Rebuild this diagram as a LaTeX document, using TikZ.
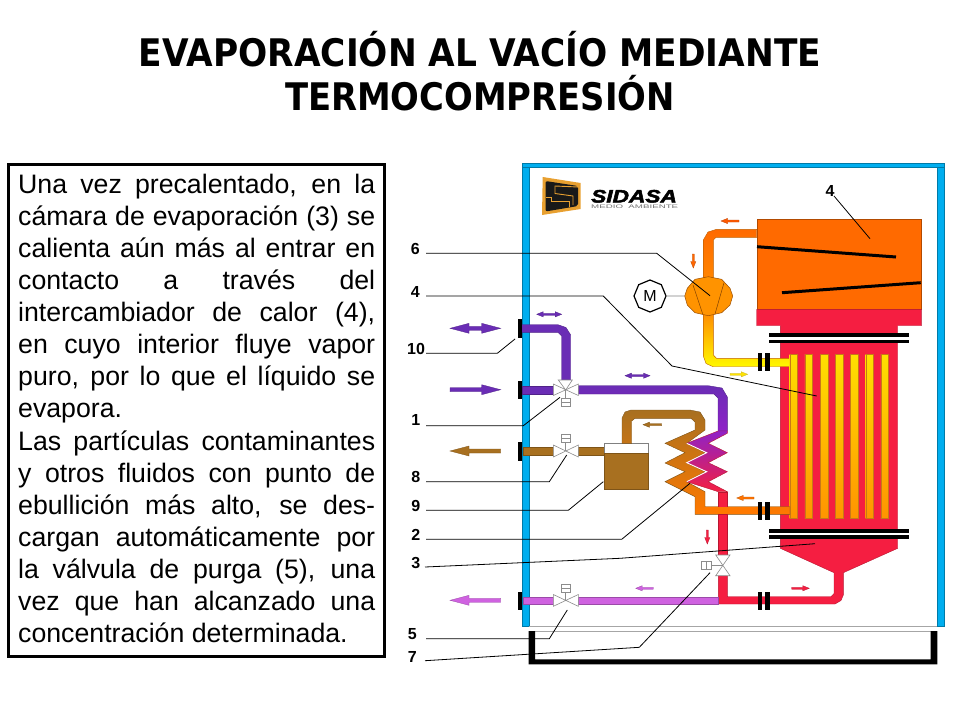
\documentclass[tikz,border=0pt]{standalone}
\usepackage{fontspec}
\setmainfont{Liberation Sans}
\newfontfamily\titlefont{DejaVu Sans}
\newfontfamily\logofont[FakeBold=2.5]{Liberation Sans}
\usetikzlibrary{shapes.geometric}
\definecolor{framebl}{HTML}{00AEEF}
\definecolor{redb}{HTML}{F51E41}
\definecolor{orangeb}{HTML}{FF6A00}
\definecolor{purp}{HTML}{6A2DB5}
\definecolor{brownb}{HTML}{A87020}
\definecolor{pinkb}{HTML}{CF62E0}
\definecolor{logoor}{HTML}{E8A030}
\definecolor{tubetop}{HTML}{FFE000}
\definecolor{tubebot}{HTML}{FF9400}
\definecolor{tubeedge}{HTML}{C87818}
\tikzset{
 frameside/.style={fill=framebl,draw=framebl!70!black,line width=.4},
 pipeedge/.style={draw=#1!75!black,line width=.4},
 bolt/.style={fill=black,draw=none},
 leader/.style={draw=black,line width=.8},
 numlabel/.style={font=\fontsize{16}{16}\bfseries\selectfont,inner sep=0},
 titleline/.style={font=\titlefont\fontsize{38}{38}\bfseries\selectfont,inner sep=0,anchor=base},
 valvebody/.style={fill=white,draw=black!45,line width=.6},
 tube/.style={top color=tubetop,bottom color=tubebot,draw=tubeedge,line width=.25},
}
\newcommand{\flowarrow}[5]{% x y rot len colour
 \path[fill=#5,draw=#5!75!black,line width=.3,shift={(#1,#2)},rotate=#3]
  (0,-\asw) -- ({#4-\ahl},-\asw) -- ({#4-\ahl},-\ahw) -- (#4,0) -- ({#4-\ahl},\ahw) -- ({#4-\ahl},\asw) -- (0,\asw) -- cycle;}
\newcommand{\dblarrow}[4]{% x y len colour
 \path[fill=#4,draw=#4!75!black,line width=.3,shift={(#1,#2)}]
  (0,0) -- (\ahl,-\ahw) -- (\ahl,-\asw) -- ({#3-\ahl},-\asw) -- ({#3-\ahl},-\ahw) -- (#3,0) -- ({#3-\ahl},\ahw) -- ({#3-\ahl},\asw) -- (\ahl,\asw) -- (\ahl,\ahw) -- cycle;}
\newcommand{\bigsize}{\def\asw{2}\def\ahw{5}\def\ahl{19}}
\newcommand{\smallsize}{\def\asw{1}\def\ahw{2.6}\def\ahl{6.5}}
\newcommand{\jl}[1]{\hbox to 357pt{\spaceskip=.278em plus 1fil minus .1em\relax #1}}
\begin{document}
\begin{tikzpicture}[x=1pt,y=-1pt]
\useasboundingbox (0,0) rectangle (960,720);
\fill[white] (0,0) rectangle (960,720);
% title
\node (title1) [titleline] at (480,66) {\resizebox{682pt}{\height}{EVAPORACIÓN AL VACÍO MEDIANTE}};
\node (title2) [titleline] at (480,110) {\resizebox{390pt}{\height}{TERMOCOMPRESIÓN}};
% text panel
\draw[line width=3] (8.5,164.5) rectangle (384.5,656.5);
\node (panel) [font=\fontsize{26.7}{32}\selectfont,inner sep=0,anchor=base west] at (18,193.5) {\vtop{\baselineskip=32.07pt\lineskiplimit=-100pt
\jl{Una vez precalentado, en la}
\jl{cámara de evaporación (3) se}
\jl{calienta aún más al entrar en}
\jl{contacto a través del}
\jl{intercambiador de calor (4),}
\jl{en cuyo interior fluye vapor}
\jl{puro, por lo que el líquido se}
\hbox{evapora.}
\jl{Las partículas contaminantes}
\jl{y otros fluidos con punto de}
\jl{ebullición más alto, se des-}
\jl{cargan automáticamente por}
\jl{la válvula de purga (5), una}
\jl{vez que han alcanzado una}
\hbox{concentración determinada.}}};
% frame
\path[frameside] (522.3,162.7) rectangle (528.7,626);
\path[frameside] (936.7,162.7) rectangle (944,626);
\path[frameside] (522.3,162.7) rectangle (944,167);
\draw[black!35,line width=.7] (528.7,626.5) -- (936.7,626.5);
\draw[black!35,line width=.7] (535,631.3) -- (931,631.3);
\fill[black] (528.7,631) -- (535,631) -- (535,659.3) -- (930.7,659.3) -- (930.7,631) -- (937.3,631) -- (937.3,664.3) -- (528.7,664.3) -- cycle;
% logo
\fill[logoor] (542.7,177) -- (580.7,183) -- (580.7,209) -- (542,215) -- cycle;
\fill[black!90,rounded corners=2pt] (545.5,181) -- (578,186) -- (578,206) -- (545.5,211.5) -- cycle;
\draw[logoor,line width=.9] (578,187) -- (555,186) -- (555,193.5) -- (573,196) -- (573,205);
\draw[logoor,line width=.9] (545.5,197) -- (551,197) -- (551,201.5) -- (569.7,201.5) -- (569.7,206.5);
\node (sidasa) [inner sep=0,anchor=base west,font=\logofont\fontsize{18}{18}\bfseries\itshape\selectfont] at (591,202.5) {\scalebox{1.26}[1]{SIDASA}};
\node (medio) [inner sep=0,anchor=north west,text=black!55] at (591,204.6) {\resizebox{87pt}{3.6pt}{MEDIO\ \ AMBIENTE}};
% top tank
\path[fill=orangeb,draw=orangeb!70!black,line width=.4] (756.7,219) rectangle (921.3,309.3);
% red body with outlet pipe
\path[fill=redb,draw=redb!75!black,line width=.4] (756.7,309.3) -- (921.3,309.3) -- (921.3,325.7) -- (897.7,325.7) -- (897.7,548.3) -- (843.3,572.7) -- (843.3,595) -- (841,600.5) -- (835,604) -- (718.3,604) -- (718.3,575.7) -- (727.3,575.7) -- (727.3,596.7) -- (831,596.7) -- (834,593.5) -- (834,572.7) -- (780.3,548.3) -- (780.3,325.7) -- (756.7,325.7) -- cycle;
% flanges
\fill[white] (780,337) rectangle (898,340);
\fill[white] (780,532.7) rectangle (898,535.3);
\fill[bolt] (769,333.3) rectangle (909,337);
\fill[bolt] (769,340) rectangle (909,343.3);
\fill[bolt] (769,529.3) rectangle (909,532.7);
\fill[bolt] (769,535.3) rectangle (909,538.7);
% compressor pipes
\path[top color=orangeb,bottom color=orange!95!yellow,pipeedge=orange] (756.7,229.3) -- (716.5,229.3) -- (708,232) -- (703.3,240) -- (703.3,280) -- (713.3,280) -- (713.3,240) -- (716,237.3) -- (756.7,237.3) -- cycle;
\path[top color=orange!95!yellow,bottom color=yellow!95!orange,pipeedge=orange] (703.3,310) -- (713.3,310) -- (713.3,355) -- (716.5,358.3) -- (790,358.3) -- (790,366.7) -- (713,366.7) -- (706,363.5) -- (703.3,356) -- cycle;
% tubes
\foreach \tx in {0,1,...,6}{
 \path[tube] ({789.7+15.2*\tx},354.3) rectangle ({797.3+15.2*\tx},518.3);
}
% compressor
\coordinate (compwest) at (684.7,296);
\path[fill=orange!85!yellow,draw=orange!60!black,line width=.5] (708.3,276.7) -- (721.7,279.3) -- (730,288.3) -- (732.7,296) -- (730,305) -- (721.7,312.7) -- (708.3,315.7) -- (695,312.7) -- (687.3,305) -- (684.7,296) -- (687.3,288.3) -- (695,279.3) -- cycle;
\draw[orange!50!black,line width=.5] (693,285) -- (702.7,314);
\draw[orange!50!black,line width=.5] (724,282.7) -- (715,314);
\node (motor) [regular polygon,regular polygon sides=8,shape border rotate=22.5,draw=black,line width=1.2,fill=white,minimum size=32pt,inner sep=0,font=\fontsize{16}{16}\selectfont] at (650,296) {M};
\draw[black!50,line width=.6] (motor) -- (compwest);
% tank coils
\draw[black,line width=3] (757,246.7) -- (896,257);
\draw[black,line width=3] (782,292.7) -- (920.7,282.7);
% purple pipes
\path[fill=purp,draw=purp!75!black,line width=.4] (522,324.7) -- (558,324.7) -- (566,327.5) -- (570.7,335) -- (570.7,380) -- (561.7,380) -- (561.7,336) -- (558,332.3) -- (522,332.3) -- cycle;
\path[fill=purp,draw=purp!75!black,line width=.4] (522,386) rectangle (553.3,394);
\path[top color=purp,bottom color=purp!75!magenta,pipeedge=purp] (578.3,385.7) -- (708,385.7) -- (722,388) -- (727.3,397) -- (727.3,431) -- (718,431) -- (718,398) -- (714,394) -- (578.3,394) -- cycle;
% brown pipes and separator
\path[fill=brownb,draw=brownb!75!black,line width=.4] (522.7,447) rectangle (553.3,454.7);
\path[fill=brownb,draw=brownb!75!black,line width=.4] (578.3,447) rectangle (604.3,454.7);
\path[fill=white,draw=black!50,line width=.6] (604.3,443.3) rectangle (648.7,453.3);
\path[fill=brownb,draw=brownb!75!black,line width=.6] (604.3,453.3) rectangle (648.7,489.3);
% orange coil
\path[top color=brownb,bottom color=orange!95!red,pipeedge=brownb] (622,443.3) -- (622,418) -- (625,412) -- (631,410) -- (690,410) -- (700,412) -- (705,420) -- (705,430) -- (686.7,443.3) -- (705,452.7) -- (686.7,463) -- (705,471.7) -- (686.7,481.7) -- (705,491.7) -- (705,506.7) -- (790,506.7) -- (790,514.3) -- (695,514.3) -- (695,496.7) -- (665,481.7) -- (685,471.7) -- (665,463) -- (685,452.7) -- (665,443.3) -- (695,430) -- (695,422) -- (691,418.3) -- (635,418.3) -- (631.7,421) -- (631.7,443.3) -- cycle;
% red coil
\path[top color=purp!75!magenta,bottom color=redb,pipeedge=redb] (727.3,431) -- (727.3,433.3) -- (708.3,443.3) -- (727.3,452.7) -- (708.3,462.7) -- (727.3,471.7) -- (708.3,481.7) -- (727.3,491.7) -- (718.3,491.7) -- (686.7,481.7) -- (706.7,471.7) -- (686.7,462.7) -- (706.7,452.7) -- (686.7,443.3) -- (718,431) -- cycle;
\draw[white,line width=.9] (686.7,443.3) -- (706.7,452.7) -- (686.7,462.7) -- (706.7,471.7) -- (686.7,481.7);
\path[fill=redb,draw=redb!75!black,line width=.4] (718.3,491.7) -- (727.3,491.7) -- (727.3,506.7) -- (718.3,506.7) -- cycle;
\path[fill=orange!95!red,draw=none] (705,506.7) rectangle (760,514.3);
\path[fill=redb,draw=redb!75!black,line width=.4] (718.3,514.3) rectangle (727.3,556);
% pink pipe
\path[fill=pinkb,draw=pinkb!75!black,line width=.4] (522.7,596.7) rectangle (553.3,604);
\path[fill=pinkb,draw=pinkb!75!black,line width=.4] (578.3,596.7) rectangle (718.3,604);
% bolts
\foreach \by in {352.7,501.7,591.7}{
 \fill[bolt] (758,\by) rectangle (762.3,{\by+18.3});
 \fill[bolt] (765.3,\by) rectangle (769.7,{\by+18.3});
}
% wall flanges
\foreach \by in {319.3,380.7,442.3,591.7}{
 \fill[bolt] (518.3,\by) rectangle (522.3,{\by+18.3});
}
% valves
\path[valvebody] (553.3,384) -- (578.3,395.5) -- (578.3,384) -- (553.3,395.5) -- cycle;
\path[valvebody] (558.3,380) -- (572.3,380) -- (565.7,390) -- cycle;
\draw[black!45,line width=.6] (565.7,390) -- (565.7,398.3);
\path[valvebody] (561,398.3) rectangle (570.7,406);
\draw[black!45,line width=.5] (561,402) -- (570.7,402);
\path[valvebody] (553.3,445) -- (578.3,457) -- (578.3,445) -- (553.3,457) -- cycle;
\draw[black!45,line width=.6] (565.7,451) -- (565.7,442.3);
\path[valvebody] (561,434.3) rectangle (570.7,442.3);
\draw[black!45,line width=.5] (561,438.3) -- (570.7,438.3);
\path[valvebody] (553.3,594.5) -- (578.3,606.3) -- (578.3,594.5) -- (553.3,606.3) -- cycle;
\draw[black!45,line width=.6] (565.7,600.3) -- (565.7,592);
\path[valvebody] (561,584) rectangle (570.7,592);
\draw[black!45,line width=.5] (561,588) -- (570.7,588);
\path[valvebody] (715.7,555) -- (730,555) -- (715.7,575.7) -- (730,575.7) -- cycle;
\draw[black!45,line width=.6] (722.7,565.5) -- (711.7,565.5);
\path[valvebody] (701.7,561.3) rectangle (711.7,569.3);
\draw[black!45,line width=.5] (706.7,561.3) -- (706.7,569.3);
% large flow arrows
\bigsize
\dblarrow{450}{328.3}{50.7}{purp}
\flowarrow{450}{389.7}{0}{50.7}{purp}
\flowarrow{500.7}{451}{180}{50.7}{brownb}
\flowarrow{500.7}{600.3}{180}{50.7}{pinkb}
% small flow arrows
\smallsize
\dblarrow{536.7}{314.3}{25}{purp}
\dblarrow{625}{375.7}{25}{purp}
\flowarrow{661.7}{424.7}{180}{18.7}{brownb}
\flowarrow{653.3}{588.3}{180}{17.6}{pinkb}
\flowarrow{739}{221}{180}{18}{orange!70!red}
\flowarrow{693.3}{254}{-90}{14}{orange!80!red}
\flowarrow{730}{374.3}{0}{17.7}{yellow!85!orange}
\flowarrow{754}{498}{180}{17.3}{orange!90!red}
\flowarrow{707.3}{530}{-90}{14}{redb}
\flowarrow{791.7}{588.3}{0}{17.6}{redb}
% labels
\node (n6) [numlabel] at (415.3,249) {6};
\node (n4a) [numlabel] at (415.3,291.7) {4};
\node (n10) [numlabel] at (416,349) {10};
\node (n1) [numlabel] at (415.7,420) {1};
\node (n8) [numlabel] at (415.7,477.3) {8};
\node (n9) [numlabel] at (415.7,506) {9};
\node (n2) [numlabel] at (415.7,535) {2};
\node (n3) [numlabel] at (415.7,563.3) {3};
\node (n5) [numlabel] at (412.3,634.3) {5};
\node (n7) [numlabel] at (412.3,656.7) {7};
\node (n4b) [numlabel] at (830,191) {4};
% leaders
\coordinate (s6) at (426,253.3);
\coordinate (s4a) at (426,296);
\coordinate (s10) at (426,353.3);
\coordinate (s1) at (426,425.7);
\coordinate (s8) at (426,481.7);
\coordinate (s9) at (426,510.3);
\coordinate (s2) at (426,539.3);
\coordinate (s3) at (425,567);
\coordinate (s5) at (426,638.7);
\coordinate (s7) at (425,660.7);
\coordinate (s4b) at (834,196);
\coordinate (e6) at (710,295.7);
\coordinate (e4a) at (816.7,396);
\coordinate (e10) at (515,339);
\coordinate (e1) at (560,397.3);
\coordinate (e8) at (566.7,455);
\coordinate (e9) at (603.3,481.7);
\coordinate (e2) at (690,483.3);
\coordinate (e3) at (815,543.7);
\coordinate (e5) at (567.3,610);
\coordinate (e7) at (710,572.7);
\coordinate (e4b) at (870,238.7);
\draw[leader] (s6) -- (656.7,253.3) -- (e6);
\draw[leader] (s4a) -- (603.3,296) -- (672,366) -- (e4a);
\draw[leader] (s10) -- (497.3,353.3) -- (e10);
\draw[leader] (s1) -- (523.3,425.7) -- (e1);
\draw[leader] (s8) -- (549.3,481.7) -- (e8);
\draw[leader] (s9) -- (568.3,510.3) -- (e9);
\draw[leader] (s2) -- (621.7,539.3) -- (e2);
\draw[leader] (s3) -- (620,558.3) -- (e3);
\draw[leader] (s5) -- (549.3,638.7) -- (e5);
\draw[leader] (s7) -- (639.3,647.3) -- (e7);
\draw[leader] (s4b) -- (e4b);
\end{tikzpicture}
\end{document}
